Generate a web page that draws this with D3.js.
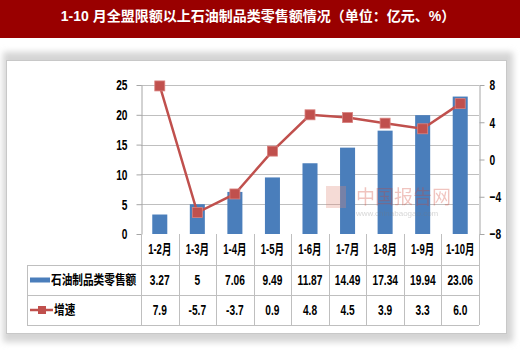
<!DOCTYPE html>
<html><head><meta charset="utf-8">
<script src="https://cdn.jsdelivr.net/npm/d3@7"></script>
<style>
html,body{margin:0;padding:0;background:#fff;}
svg{display:block;}
.num{font-family:"Liberation Sans","Noto Sans CJK SC",sans-serif;font-weight:bold;transform-box:fill-box;transform:scaleX(0.68);transform-origin:center;}
.axl .num{transform-origin:right center;}
.axr .num{transform-origin:left center;}
.leg{font-family:"Noto Sans CJK SC",sans-serif;font-weight:bold;transform-box:fill-box;transform:scaleX(0.82);transform-origin:left center;}
</style></head>
<body><svg id="c" width="520" height="357"></svg>
<script>
const title = "1-10 月全盟限额以上石油制品类零售额情况（单位：亿元、%）";
const categories = ["1-2月","1-3月","1-4月","1-5月","1-6月","1-7月","1-8月","1-9月","1-10月"];
const salesName = "石油制品类零售额";
const sales = [3.27, 5, 7.06, 9.49, 11.87, 14.49, 17.34, 19.94, 23.06];
const salesLabels = ["3.27","5","7.06","9.49","11.87","14.49","17.34","19.94","23.06"];
const growthName = "增速";
const growth = [7.9, -5.7, -3.7, 0.9, 4.8, 4.5, 3.9, 3.3, 6.0];
const growthLabels = ["7.9","-5.7","-3.7","0.9","4.8","4.5","3.9","3.3","6.0"];
const leftTicks = [0, 5, 10, 15, 20, 25];
const rightTicks = [-8, -4, 0, 4, 8];

const svg = d3.select("#c");
const red = "#c0504d", blue = "#4a7ebb", grid = "#bfbfbf";

// title bar
svg.append("rect").attr("x",0).attr("y",0).attr("width",520).attr("height",38).attr("fill","#990000");
svg.append("text").attr("x",258).attr("y",21).attr("text-anchor","middle")
  .attr("fill","#fff").style("font-family","'Liberation Sans','Noto Sans CJK SC',sans-serif").style("font-weight","bold")
  .style("font-size","14px").text(title);

// card shadow + frame
const defs = svg.append("defs");
const f = defs.append("filter").attr("id","blur").attr("x","-5%").attr("y","-5%").attr("width","110%").attr("height","110%");
f.append("feGaussianBlur").attr("stdDeviation",3);
svg.append("rect").attr("x",3).attr("y",52).attr("width",510).attr("height",290).attr("fill","#d4d4d4").attr("filter","url(#blur)");
svg.append("rect").attr("x",6.5).attr("y",60.5).attr("width",500).attr("height",273).attr("fill","#fff").attr("stroke","#c8c8c8");

const L = 141, R = 479, T = 85, B = 234;
const x = d3.scaleBand().domain(categories).range([L, R]);
const yL = d3.scaleLinear().domain([0, 25]).range([B, T]);
const yR = d3.scaleLinear().domain([-8, 8]).range([B, T]);

// gridlines
svg.append("g").selectAll("line").data(leftTicks.filter(d=>d>0)).join("line")
  .attr("x1",L).attr("x2",R).attr("y1",d=>Math.round(yL(d))+0.5).attr("y2",d=>Math.round(yL(d))+0.5)
  .attr("stroke",grid).attr("stroke-width",1);

// bars
const bw = x.bandwidth()*0.4;
svg.append("g").selectAll("rect").data(sales).join("rect")
  .attr("x",(d,i)=>x(categories[i])+x.bandwidth()/2-bw/2)
  .attr("y",d=>yL(d)).attr("width",bw).attr("height",d=>B-yL(d)).attr("fill",blue);

// axes
const gl = svg.append("g").attr("class","axl").attr("transform",`translate(${L+0.5},0)`)
  .call(d3.axisLeft(yL).tickValues(leftTicks).tickSize(5).tickPadding(9).tickSizeOuter(0));
const gr = svg.append("g").attr("class","axr").attr("transform",`translate(${R+0.5},0)`)
  .call(d3.axisRight(yR).tickValues(rightTicks).tickSize(5).tickPadding(5).tickSizeOuter(0));
[gl,gr].forEach(g=>{
  g.selectAll("path,line").attr("stroke","#a6a6a6");
  g.selectAll("text").attr("class","num").style("font-size","15px").style("font-family",null).attr("fill","#000");
});

// line
const line = d3.line().x((d,i)=>x(categories[i])+x.bandwidth()/2).y(d=>yR(d));
svg.append("path").datum(growth).attr("d",line).attr("fill","none").attr("stroke",red).attr("stroke-width",2.5);
svg.append("g").selectAll("rect").data(growth).join("rect")
  .attr("x",(d,i)=>x(categories[i])+x.bandwidth()/2-5).attr("y",d=>yR(d)-5)
  .attr("width",10).attr("height",10).attr("fill",red).attr("stroke","#d9827f").attr("stroke-width",0.8);

// watermark
const wm = svg.append("g").attr("opacity",0.3);
wm.append("rect").attr("x",326).attr("y",186).attr("width",20).attr("height",22).attr("fill","#e08a7a");
wm.append("text").attr("x",356).attr("y",204).attr("fill","#d04030").style("font-family","'Noto Sans CJK SC',sans-serif")
  .style("font-size","19px").text("中国报告网");
wm.append("text").attr("x",356).attr("y",216).attr("fill","#777").style("font-family","'Liberation Sans',sans-serif")
  .style("font-size","8px").text("www.chinabaogao.com");

// data table
const tL = 27, r0 = B, r1 = 265, r2 = 295, r3 = 325;
const tb = svg.append("g").attr("stroke","#bfbfbf").attr("stroke-width",1);
[r1, r2, r3].forEach(y=>tb.append("line").attr("x1",tL).attr("x2",R).attr("y1",y+0.5).attr("y2",y+0.5));
tb.append("line").attr("x1",tL+0.5).attr("x2",tL+0.5).attr("y1",r1).attr("y2",r3);
const bounds = categories.map(c=>x(c)).concat([R]);
tb.selectAll(".v").data(bounds).join("line").attr("class","v")
  .attr("x1",d=>Math.round(d)+0.5).attr("x2",d=>Math.round(d)+0.5).attr("y1",r0).attr("y2",r3);

svg.append("g").selectAll("text").data(categories).join("text").attr("class","num")
  .attr("x",d=>x(d)+x.bandwidth()/2).attr("y",(r0+r1)/2+5).attr("text-anchor","middle")
  .style("font-size","14px").text(d=>d);
svg.append("g").selectAll("text").data(salesLabels).join("text").attr("class","num")
  .attr("x",(d,i)=>x(categories[i])+x.bandwidth()/2).attr("y",(r1+r2)/2+5.5).attr("text-anchor","middle")
  .style("font-size","15px").text(d=>d);
svg.append("g").selectAll("text").data(growthLabels).join("text").attr("class","num")
  .attr("x",(d,i)=>x(categories[i])+x.bandwidth()/2).attr("y",(r2+r3)/2+5.5).attr("text-anchor","middle")
  .style("font-size","15px").text(d=>d);

// legend keys
svg.append("rect").attr("x",30).attr("y",(r1+r2)/2-2.5).attr("width",20).attr("height",5).attr("fill",blue);
svg.append("text").attr("class","leg").attr("x",51).attr("y",(r1+r2)/2+4.5).style("font-size","13px").text(salesName);
svg.append("line").attr("x1",30).attr("x2",53).attr("y1",(r2+r3)/2).attr("y2",(r2+r3)/2).attr("stroke",red).attr("stroke-width",2.5);
svg.append("rect").attr("x",38).attr("y",(r2+r3)/2-4).attr("width",8).attr("height",8).attr("fill",red);
svg.append("text").attr("class","leg").attr("x",54).attr("y",(r2+r3)/2+4.5).style("font-size","13px").text(growthName);
</script></body></html>
